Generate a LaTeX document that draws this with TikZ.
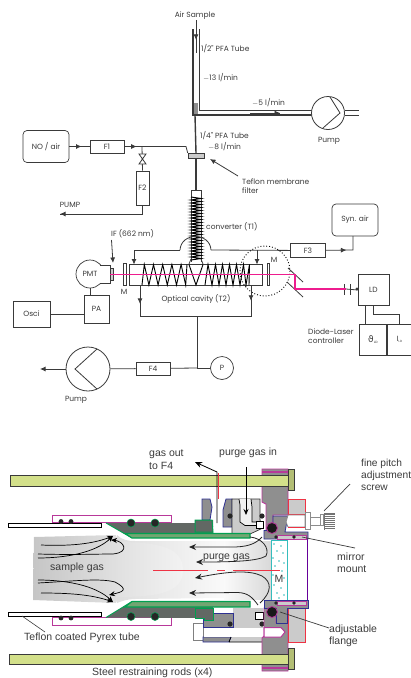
\documentclass[tikz,border=0pt]{standalone}
\usepackage{fontspec}
\setmainfont{Liberation Sans}
\newfontfamily\upf{Poppins}
\newfontfamily\dvf{DejaVu Sans}
\usetikzlibrary{arrows.meta,decorations.markings,calc}
\definecolor{ink}{HTML}{3A3A3A}
\definecolor{rodc}{HTML}{D3E08A}
\definecolor{dgrey}{HTML}{626864}
\definecolor{mgrey}{HTML}{8F8F8F}
\definecolor{lgrey}{HTML}{CBCBCB}
\definecolor{grn}{HTML}{00A050}
\definecolor{mag}{HTML}{B8389A}
\definecolor{blu}{HTML}{2E3192}
\definecolor{las}{HTML}{EE1C8E}
\definecolor{redl}{HTML}{EE3344}
\definecolor{cya}{HTML}{35BDBD}
\tikzset{
 wire/.style={draw=ink,line width=0.8pt},
 thick wire/.style={draw=ink,line width=1.4pt},
 boxn/.style={draw=ink,line width=0.7pt,inner sep=0pt,fill=white,font=\upf\fontsize{7.5}{9}\selectfont,text=ink},
 tag/.style={inner sep=0pt,font=\upf\fontsize{7.5}{9.5}\selectfont,text=ink,align=left},
 ltag/.style={tag,anchor=west},
 low/.style={inner sep=0pt,font=\fontsize{10.5}{12.3}\selectfont,text=ink,align=left,anchor=west},
 marr/.style={postaction={decorate,decoration={markings,mark=at position #1 with {\arrow{Latex[length=5.5pt,width=5pt]}}}}},
 endarr/.style={-{Latex[length=5.5pt,width=5pt]}},
 flow/.style={draw=black,line width=0.7pt,-{Stealth[length=6pt,width=5pt]}},
 flowb/.style={draw=black!85,line width=0.8pt,-{Stealth[length=7pt,width=6pt]}},
 rod/.style={draw=ink,line width=0.9pt,fill=rodc},
}
\begin{document}
\begin{tikzpicture}[x=1pt,y=-1pt]
\useasboundingbox (0,0) rectangle (411,678);
% ---------- upper schematic ----------
\node[tag] (air) at (195,16) {Air Sample};
\coordinate (t1) at (193,29); \coordinate (t2) at (199,29);
\coordinate (corner) at (193,115);
\coordinate (pumpL) at (312,110);
\fill[mgrey] (194,103) rectangle (198,115);
\draw[wire] (t2) -- (199,110) -- (pumpL);
\draw[thick wire] (t1) -- (corner) -- (312,115);
\draw[wire,marr=0.6] (air.south) ++(1,0) -- (196,53);
\draw[wire,marr=1] (250,113) -- (280,113);
\node[draw=ink,line width=0.8pt,circle,minimum size=33pt,inner sep=0pt,fill=white] (pump1) at (328,113) {};
\draw[wire] (330,97) -- (340,113) -- (323,128);
\coordinate (po1) at (359,110); \coordinate (po2) at (359,115);
\draw[wire] (345,110) -- (po1) (345,115) -- (po2);
\node[tag] at (329,141) {Pump};
\node[ltag] at (201,49) {1/2" PFA Tube};
\node[ltag] at (203,78) {$-$13 l/min};
\node[ltag] at (252,103) {$-$5 l/min};
\node[ltag] at (200,136) {1/4" PFA Tube};
\node[ltag] at (208,147) {$-$8 l/min};
\node[ltag] at (242,186) {Teflon membrane\\filter};
% NO line
\node[boxn,rounded corners=4pt,minimum width=46pt,minimum height=32pt] (no) at (46,146.5) {NO / air};
\node[boxn,minimum width=34pt,minimum height=13pt] (f1) at (107,146.5) {F1};
\node[draw=ink,fill=lgrey,line width=0.6pt,minimum width=16pt,minimum height=5.5pt,inner sep=0pt] (filt) at (196,156) {};
\draw[thick wire] (corner) ++(2,0) -- (filt.north);
\draw[thick wire] (filt.south) -- (196,190);
\draw[wire,marr=0.6] (no) -- (f1);
\coordinate (tee) at (142,146.5);
\draw[wire,marr=0.7] (f1) -- (tee);
\draw[wire] (tee) -- (186,146.5) -- (filt.north west);
\node[boxn,minimum width=13pt,minimum height=34pt] (f2) at (142.5,188) {F2};
\draw[wire] (tee) -- (f2.north);
\draw[wire,fill=white] (139,154) -- (146,154) -- (139,164) -- (146,164) -- cycle;
\coordinate (pl) at (60,214);
\draw[wire] (f2.south) -- (142.5,214) -- (pl);
\draw[wire,endarr] (100,214) -- (pl);
\node[tag] at (70,205) {PUMP};
\coordinate (tefl) at (210,159);
\draw[wire,endarr] (238,176) -- (tefl);
% converter
\draw[wire] (191,190) -- (201,190) -- (201,262) (191,190) -- (191,262);
\draw[line width=1pt,draw=black] (191,197) \foreach \k in {0,...,20} { -- (201,{198.5+\k*3}) -- (191,{200+\k*3}) };
\node[ltag] at (206,227) {converter (T1)};
% cavity
\node[draw=ink,line width=0.9pt,fill=white,minimum width=133pt,minimum height=21pt,inner sep=0pt] (cav) at (195.5,274.5) {};
\draw[wire] (189,264) -- (191,259) (203,264) -- (201,259);
\draw[line width=0.9pt,draw=black] (142,285) \foreach \x in {146.6,155.8,165,174.2,183.4} { -- (\x-2.3,264.5) -- (\x+2.3,285) } -- (187,264.5);
\draw[line width=0.9pt,draw=black] (189,264.5) -- (196,285) -- (203,264.5);
\draw[line width=0.9pt,draw=black] (205,285) -- (208,264.5) \foreach \x in {212,219,226,233,240,246} { -- (\x,285) -- (\x+3.5,264.5) } -- (249,285);
\draw[wire] (180,250) .. controls (181,232) and (210,232) .. (211,250);
\coordinate (feedL) at (134,264.5);
\coordinate (feedR) at (257,264.5);
\draw[wire,endarr] (180,250) -- (134,250) -- (feedL);
\node[boxn,minimum width=35pt,minimum height=13.5pt] (f3) at (308,250.5) {F3};
\draw[wire] (211,250) -- (f3);
\draw[wire,endarr] (257,250) -- (feedR);
\node[boxn,rounded corners=4pt,minimum width=46pt,minimum height=32pt] (syn) at (355,220) {Syn. air};
\draw[wire,marr=0.5] (f3) -- (353,250) -- (353,236);
\draw[dotted,line width=0.9pt,draw=black] (265,271) circle (25);
% optics
\node[draw=ink,line width=0.7pt,circle,minimum size=28pt,inner sep=0pt,fill=white] (pmt) at (90,274) {};
\node[tag] at (90,274) {PMT};
\draw[wire,fill=white] (100,265) -- (110,265) -- (110,283) -- (100,283);
\draw[wire,fill=lgrey] (110,268) rectangle (113,280);
\draw[wire,fill=white] (123,263) rectangle (126,285);
\draw[wire,fill=white] (267,263) rectangle (269.5,285);
\coordinate (ift) at (113,263);
\draw[wire,endarr] (111.5,240) -- (ift);
\node[ltag] at (111,234) {IF (662 nm)};
\node[tag] at (124,292) {M};
\node[tag] at (274,260) {M};
\node[tag] at (196,299) {Optical cavity (T2)};
\draw[wire] (288,268) -- (303,282) (287,282) -- (303,297);
\node[boxn,minimum width=31pt,minimum height=31pt] (ld) at (373.5,290) {LD};
\draw[wire] (344,284) -- (344,295) (350,284) -- (350,295);
\draw[las,line width=1.1pt] (110,274.5) -- (295,274.5) -- (295,289) -- (346,289);
\draw[wire] (346,289) -- (ld.west);
\fill[ink] (357,289) circle (1.6);
\node[boxn,minimum width=25pt,minimum height=28pt] (pa) at (96.5,309) {PA};
\draw[wire] (pmt.south) -- (90,295);
\node[boxn,minimum width=37pt,minimum height=26pt] (osci) at (31.5,314) {Osci};
\draw[wire] (osci) -- (84,314);
\coordinate (dL) at (140,285); \coordinate (dR) at (251,285);
\coordinate (bus) at (197,316.5);
\draw[wire,marr=0.6] (dL) -- (140,316.5);
\draw[wire,marr=0.5] (dR) -- (251,316.5);
\draw[wire] (140,316.5) -- (251,316.5);
\node[draw=ink,line width=0.7pt,circle,minimum size=23pt,inner sep=0pt,font=\upf\fontsize{7.5}{9}\selectfont,text=ink] (p) at (222,368) {P};
\coordinate (j) at (197,368);
\draw[wire] (bus) -- (j) -- (p);
\node[boxn,minimum width=34pt,minimum height=13pt] (f4) at (153,368.5) {F4};
\draw[wire] (j) -- (f4);
\node[draw=ink,line width=0.8pt,circle,minimum size=44pt,inner sep=0pt] (pump2) at (88,369) {};
\draw[wire] (f4) -- (pump2);
\draw[wire] (97,349) -- (75,369) -- (97,389);
\coordinate (pumpout) at (40,369);
\draw[wire,endarr] (pump2) -- (pumpout);
\node[tag] at (76,400) {Pump};
% LD controller
\node[boxn,minimum width=27.5pt,minimum height=31pt] (th) at (373,339.5) {\dvf\fontsize{9}{9}\selectfont ϑ\raisebox{-1pt}{\fontsize{3}{3}\selectfont LD}};
\node[boxn,minimum width=25pt,minimum height=31pt] (il) at (399.5,339.5) {I\raisebox{-1pt}{\fontsize{3}{3}\selectfont LD}};
\draw[wire] (365.5,305) -- (365.5,324);
\draw[wire] (373,305) -- (373,314) -- (399,314) -- (399,324);
\node[ltag] at (308,336) {Diode-Laser\\controller};
% ---------- lower section: gas ----------
\shade[left color=gray!45,right color=gray!24]
  (34,537) -- (116,535) -- (118,541) -- (118,598) -- (116,603) -- (33,600) -- cycle;
\shade[left color=gray!26,right color=gray!4]
  (117,535) .. controls (122,540) and (128,541) .. (135,541) -- (225,541) -- (225,598) -- (135,599) .. controls (128,599) and (122,601) .. (117,603) -- cycle;
\shade[left color=gray!4,right color=gray!30] (224,541) rectangle (271,599);
\shade[left color=gray!24,right color=gray!10] (117,542) .. controls (160,542) and (183,548) .. (183,570) .. controls (183,592) and (160,597) .. (117,597) -- cycle;
% tubes and sleeves
\draw[draw=black,line width=0.8pt,fill=white] (8,523) rectangle (101,527);
\draw[draw=black,line width=0.8pt,fill=white] (8,612) rectangle (101,616);
\draw[mag,line width=0.8pt,fill=white] (52,515.5) rectangle (171,522);
\draw[mag,line width=0.8pt,fill=white] (52,617) rectangle (171,625);
\foreach \x in {61,71} {\fill[black!85] (\x,521.5) circle (2.4); \fill[black!85] (\x,618) circle (2.4);}
% dark wedges
\fill[dgrey] (106,523) -- (202,523) -- (202,520) -- (213,520) -- (213,534) -- (125,534) -- cycle;
\draw[grn,line width=0.9pt] (106,523) -- (132,538);
\fill[dgrey] (106,617.5) -- (132,601.5) -- (213,606) -- (213,620) -- (203,620) -- (203,618) -- cycle;
\draw[grn,line width=0.9pt] (106,617.5) -- (132,601.5);
\foreach \x in {131,155} {\draw[grn,fill=black!85,line width=0.5pt] (\x,523) circle (4); \draw[grn,fill=black!85,line width=0.5pt] (\x,616.5) circle (4);}
% upper body
\fill[white] (213,527) rectangle (232,534);
\draw[blu,line width=0.8pt,fill=mgrey] (202,520) -- (202,499) -- (210,499) -- (212,507) -- (210,520) -- cycle;
\draw[blu,line width=0.8pt,fill=mgrey] (226,499) -- (232,499) -- (232,527) -- (223,527) -- (223,510) -- cycle;
\draw[black!80,line width=0.7pt,fill=lgrey] (232,499) -- (260,499) -- (260,520) -- (263,528) -- (250,534) -- (232,534) -- cycle;
\draw[black,line width=0.7pt,fill=gray!12] (239,499) -- (240,505) -- (240,522) -- (245,525.5) -- (257,525.5) -- (257,522) -- (252,522) -- (252,507) -- (251,499);
\draw[grn,line width=1pt,fill=dgrey] (195,520) -- (212,520) -- (213,532) -- (195,532) -- cycle;
\draw[black,fill=white,line width=0.6pt] (256,521) rectangle (263,528);
\fill[black!85] (230,516) circle (2.6);
\fill[black!85] (262,516) circle (2.6);
\draw[grn,line width=1.1pt,fill=mgrey!80!green] (125,533.5) -- (250,533.5) -- (250,538) -- (132,538) -- cycle;
% lower body
\draw[black!50,line width=0.8pt,fill=white] (193,623) rectangle (203,640);
\fill[lgrey] (233,608) -- (263,608) -- (263,642) -- (229,642) -- (229,627) -- (233,627) -- cycle;
\draw[blu,line width=0.8pt,fill=mgrey] (203,613) -- (233,613) -- (233,627) -- (203,627) -- cycle;
\draw[blu,line width=0.8pt,fill=mgrey] (203,637) -- (231,637) -- (229,642) -- (203,642) -- cycle;
\fill[white] (203.5,627.5) rectangle (264,637);
\draw[black,line width=0.7pt] (229,642) -- (262,642) (229,642) -- (231,637);
\draw[grn,line width=1pt,fill=dgrey] (195,608) -- (213,608) -- (213,620) -- (204,620) -- (204,618) -- (195,618) -- cycle;
\draw[black,fill=white,line width=0.6pt] (255,612) rectangle (263,619);
\fill[black!85] (230,624) circle (2.6);
\fill[black!85] (262,624) circle (2.6);
\draw[grn,line width=1.1pt,fill=mgrey!80!green] (132,601.5) -- (250,601.5) -- (250,607) -- (125,607) -- cycle;
% flange
\draw[mag,line width=0.9pt,fill=mgrey] (262,469) -- (288,469) -- (288,515) -- (273,515) -- (273,530) -- (266,530) -- (266,504) -- (262,502) -- cycle;
\draw[mag,line width=0.9pt,fill=mgrey] (264,608) -- (276,608) -- (276,623) -- (288,623) -- (288,671) -- (262,671) -- (262,638) -- (264,636) -- cycle;
\draw[mag,line width=1pt,fill=white] (264,627.5) -- (281,627.5) -- (285,632) -- (281,637) -- (264,637) -- cycle;
\draw[mag,line width=1.4pt] (262,472) -- (288,472) (262,668) -- (288,668);
% rods
\node[rod,minimum width=278pt,minimum height=11pt,inner sep=0pt] (rodT) at (149,481) {};
\node[rod,minimum width=279pt,minimum height=10pt,inner sep=0pt] (rodB) at (148.5,659) {};
\draw[draw=ink,line width=0.8pt,fill=rodc!85!black] (288,469) rectangle (294,490);
\draw[draw=ink,line width=0.8pt,fill=rodc!85!black] (288,648) rectangle (294,669);
% red blocks
\draw[redl,line width=0.9pt,fill=lgrey] (288,499) rectangle (305,514);
\draw[redl,line width=0.9pt,fill=lgrey] (288,608) rectangle (305,642);
% mirror + mount
\draw[cya,line width=0.9pt,fill=white] (271,540) rectangle (287,600);
\foreach \a/\b in {274/544,281/546,277/551,283/553,273/558,279/561,284/563,275/566,282/571,274/585,281/588,277/593,284/595,279/598,273/575,284/578}
  {\fill[cya] (\a,\b) circle (0.8);}
\node[inner sep=0pt,font=\fontsize{10.5}{12}\selectfont,text=ink] (mirr) at (279,579) {M};
\draw[violet!80!blue,line width=1pt] (287,539) -- (307,539) -- (307,601);
\draw[blu,line width=0.8pt,fill=mgrey] (273,516) -- (288,516) -- (285,532) -- (308,532) -- (308,539) -- (264,539) -- (264,530.5) -- (273,530.5) -- cycle;
\draw[blu,line width=0.8pt,fill=mgrey] (264,600) -- (308,600) -- (308,608) -- (287,608) -- (287,623) -- (276,623) -- (276,608) -- (264,608) -- cycle;
\draw[mag,line width=0.8pt,fill=lgrey] (277,535) rectangle (306,539);
\draw[mag,line width=0.8pt,fill=lgrey] (277,601) rectangle (306,605);
\foreach \x in {276,294} {\fill[black!85] (\x,537) circle (1.9); \fill[black!85] (\x,603) circle (1.9);}
\fill[black!90] (272,528) circle (5.5); \draw[mag,line width=0.8pt] (272,528) circle (5.5);
\fill[black!90] (272,612) circle (5.5); \draw[mag,line width=0.8pt] (272,612) circle (5.5);
% screw
\begin{scope}[draw=black!45,line width=0.9pt,fill=white]
\filldraw (286,522) -- (288,515) -- (305,515) -- (305,527) -- (288,527) -- cycle;
\filldraw (305,512) rectangle (310,529);
\filldraw (310,517) rectangle (320,525);
\filldraw (320,514) rectangle (323,525);
\end{scope}
\draw[redl,line width=0.9pt] (288,527.5) -- (305,527.5);
\fill[black!55] (324,513) rectangle (335,530);
\foreach \y in {515,517,...,529} {\draw[white,line width=0.4pt] (325,\y) -- (335,\y);}
% red centre line
\draw[redl,line width=0.8pt] (153,570) -- (208,570);
\draw[redl,line width=0.8pt] (217,570) -- (225,570);
\draw[redl,line width=0.8pt] (233,570) -- (280,570);
% sample stream lines
\draw[flow] (41,545) .. controls (65,546) and (90,545) .. (113,536);
\draw[flow] (38,558) .. controls (65,558) and (95,553) .. (113,536);
\draw[flow] (38,554) .. controls (75,555) and (95,554) .. (113,554) .. controls (131,552) and (123,541) .. (111,540);
\draw[flow] (41,593) .. controls (65,593) and (90,594) .. (113,602);
\draw[flow] (38,580) .. controls (65,580) and (95,585) .. (113,602);
\draw[flow] (38,583) .. controls (75,581) and (100,578) .. (115,582) .. controls (130,590) and (122,592) .. (109,595);
% purge stream lines
\draw[flowb] (262,537) .. controls (255,545) and (245,547) .. (232,547) -- (189,547);
\draw[flowb] (250,537) .. controls (262,538) and (270,548) .. (266,556) .. controls (258,561) and (235,562) .. (196,562);
\draw[flowb] (260,603) .. controls (272,592) and (272,582) .. (262,576) .. controls (250,570) and (230,571) .. (195,578);
\draw[flowb] (258,605) .. controls (252,597) and (248,593) .. (238,592.5) -- (189,593);
% lower labels
\node[low] at (149,459.5) {gas out\\to F4};
\coordinate (gasend) at (195,462);
\draw[redl,line width=0.6pt] (218,473) -- (218,499);
\draw[draw=black,line width=0.8pt,-{Stealth[length=7pt,width=6pt]}] (217,523) -- (217,472) -- (gasend);
\node[low] at (219,453) {purge gas in};
\draw[draw=black,line width=0.8pt,-{Stealth[length=6pt,width=5pt]}] (246,467) -- (246,515);
\node[low,font=\fontsize{10.2}{12.3}\selectfont] at (361,475) {fine pitch\\adjustment\\screw};
\draw[draw=ink,line width=0.7pt] (350,484) -- (324,511);
\node[low] at (337,563) {mirror\\mount};
\draw[draw=ink,line width=0.7pt] (355,548) -- (302,537);
\node[low] at (329,635.5) {adjustable\\flange};
\draw[draw=ink,line width=0.7pt] (329,628) -- (280,612);
\node[low] at (203,558) {purge gas};
\node[low] at (50,568) {sample gas};
\node[low] at (24,638) {Teflon coated Pyrex tube};
\draw[draw=ink,line width=0.6pt] (22,616) -- (45,632);
\node[low] at (92,673) {Steel restraining rods (x4)};
\end{tikzpicture}
\end{document}
